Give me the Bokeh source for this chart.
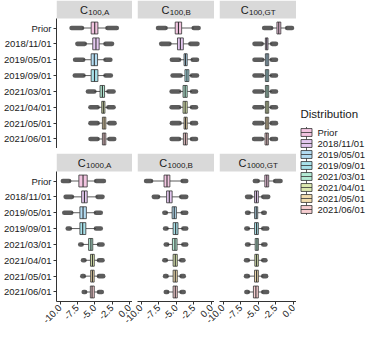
import math
from bokeh.plotting import figure
from bokeh.layouts import row, column
from bokeh.models import Range1d, FixedTicker, ColumnDataSource, PrintfTickFormatter
from bokeh.core.properties import value
from bokeh.embed import file_html
from bokeh.resources import INLINE

# ---------------- data ----------------
categories = ["Prior", "2018/11/01", "2019/05/01", "2019/09/01",
              "2021/03/01", "2021/04/01", "2021/05/01", "2021/06/01"]
fill_colors = ["#F2C4E0", "#E4C8F0", "#B3DCF2", "#A8E2EA",
               "#B3EAD4", "#DCE9B0", "#F1DCAE", "#F6CDD0"]
x_ticks = [-10.0, -7.5, -5.0, -2.5, 0.0]

# C100,A
c100a_lo_out = [-8.35, -7.51, -7.84, -7.88, -5.99, -5.63, -5.63, -5.63]
c100a_lo_wh = [-6.85, -6.46, -6.68, -6.64, -5.08, -4.61, -4.61, -4.61]
c100a_q1 = [-5.53, -5.30, -5.53, -5.53, -4.25, -4.01, -3.91, -3.91]
c100a_med = [-5.02, -4.84, -5.08, -5.05, -3.91, -3.78, -3.67, -3.67]
c100a_q3 = [-4.56, -4.38, -4.61, -4.56, -3.60, -3.55, -3.42, -3.42]
c100a_hi_wh = [-3.18, -3.46, -3.46, -3.46, -3.04, -3.04, -2.90, -2.90]
c100a_hi_out = [-1.84, -2.53, -2.77, -2.70, -2.31, -2.31, -2.17, -2.21]

# C100,B
c100b_lo_out = [-7.60, -7.15, -5.63, -5.53, -5.67, -5.67, -5.63, -5.67]
c100b_lo_wh = [-6.54, -5.99, -4.61, -4.38, -4.61, -4.61, -4.55, -4.61]
c100b_q1 = [-5.16, -4.84, -3.91, -3.78, -4.05, -4.05, -3.91, -4.00]
c100b_med = [-4.70, -4.43, -3.70, -3.50, -3.75, -3.75, -3.70, -3.72]
c100b_q3 = [-4.25, -4.01, -3.46, -3.22, -3.46, -3.46, -3.46, -3.46]
c100b_hi_wh = [-2.53, -3.00, -2.67, -2.77, -2.77, -2.77, -2.77, -2.77]
c100b_hi_out = [-1.84, -2.00, -2.07, -2.07, -2.21, -2.21, -2.21, -2.21]

# C100,GT
c100gt_lo_out = [-4.17, -5.54, -5.54, -5.54, -5.54, -5.54, -5.54, -5.60]
c100gt_lo_wh = [-3.18, -4.54, -4.45, -4.45, -4.45, -4.45, -4.45, -4.50]
c100gt_q1 = [-2.36, -4.00, -4.00, -4.00, -4.00, -4.00, -4.00, -4.05]
c100gt_med = [-2.10, -3.81, -3.77, -3.77, -3.77, -3.77, -3.77, -3.80]
c100gt_q3 = [-1.81, -3.63, -3.53, -3.53, -3.53, -3.53, -3.53, -3.58]
c100gt_hi_wh = [-0.90, -3.04, -3.08, -3.08, -3.08, -3.08, -3.08, -3.08]
c100gt_hi_out = [-0.22, -2.50, -2.50, -2.50, -2.50, -2.50, -2.50, -2.50]

# C1000,A
c1000a_lo_out = [-9.60, -9.20, -9.40, -8.90, -7.10, -6.70, -6.80, -6.60]
c1000a_lo_wh = [-8.70, -8.30, -8.40, -8.60, -6.90, -6.50, -6.60, -6.40]
c1000a_q1 = [-7.30, -6.90, -7.15, -7.15, -5.90, -5.63, -5.60, -5.65]
c1000a_med = [-6.70, -6.50, -6.70, -6.75, -5.57, -5.35, -5.35, -5.40]
c1000a_q3 = [-6.10, -6.10, -6.22, -6.30, -5.30, -5.08, -5.10, -5.08]
c1000a_hi_wh = [-4.80, -4.60, -4.84, -4.84, -4.40, -4.40, -4.40, -4.40]
c1000a_hi_out = [-3.70, -3.90, -4.15, -4.15, -3.90, -3.90, -3.80, -4.00]

# C1000,B
c1000b_lo_out = [-9.30, -8.20, -6.70, -6.60, -6.50, -6.70, -6.60, -6.50]
c1000b_lo_wh = [-8.60, -7.60, -6.50, -6.40, -6.30, -6.50, -6.40, -6.30]
c1000b_q1 = [-6.75, -6.39, -5.60, -5.46, -5.56, -5.46, -5.46, -5.46]
c1000b_med = [-6.33, -6.00, -5.30, -5.10, -5.20, -5.15, -5.15, -5.15]
c1000b_q3 = [-5.92, -5.60, -5.00, -4.77, -4.90, -4.87, -4.87, -4.87]
c1000b_hi_wh = [-4.10, -4.30, -4.10, -4.00, -4.00, -4.30, -4.25, -4.25]
c1000b_hi_out = [-3.60, -3.60, -3.60, -3.60, -3.60, -4.00, -3.95, -3.95]

# C1000,GT
c1000gt_lo_out = [-5.50, -6.60, -6.60, -6.70, -6.60, -6.75, -6.75, -6.70]
c1000gt_lo_wh = [-5.10, -6.10, -6.40, -6.50, -6.40, -6.50, -6.50, -6.50]
c1000gt_q1 = [-4.08, -5.54, -5.54, -5.54, -5.45, -5.50, -5.54, -5.70]
c1000gt_med = [-3.80, -5.27, -5.30, -5.25, -5.20, -5.25, -5.25, -5.35]
c1000gt_q3 = [-3.53, -5.00, -5.09, -5.00, -5.00, -5.00, -5.00, -5.00]
c1000gt_hi_wh = [-2.60, -4.30, -4.30, -4.30, -4.30, -4.30, -4.30, -4.30]
c1000gt_hi_out = [-1.85, -3.60, -4.10, -3.75, -4.00, -4.00, -3.90, -3.75]

panels = [
    ("100,A", c100a_lo_out, c100a_lo_wh, c100a_q1, c100a_med, c100a_q3, c100a_hi_wh, c100a_hi_out),
    ("100,B", c100b_lo_out, c100b_lo_wh, c100b_q1, c100b_med, c100b_q3, c100b_hi_wh, c100b_hi_out),
    ("100,GT", c100gt_lo_out, c100gt_lo_wh, c100gt_q1, c100gt_med, c100gt_q3, c100gt_hi_wh, c100gt_hi_out),
    ("1000,A", c1000a_lo_out, c1000a_lo_wh, c1000a_q1, c1000a_med, c1000a_q3, c1000a_hi_wh, c1000a_hi_out),
    ("1000,B", c1000b_lo_out, c1000b_lo_wh, c1000b_q1, c1000b_med, c1000b_q3, c1000b_hi_wh, c1000b_hi_out),
    ("1000,GT", c1000gt_lo_out, c1000gt_lo_wh, c1000gt_q1, c1000gt_med, c1000gt_q3, c1000gt_hi_wh, c1000gt_hi_out),
]

# ---------------- layout constants ----------------
FONT = "Liberation Sans"
DARK = "#333333"
PW = 77          # panel frame width
AX_W = 55        # y-axis area
GAP = 5
EXTRA = 16       # overlap room so rotated tick labels are not clipped
STRIP_H = 18
PANEL_H = 130
XAX_H = 30
X0, X1 = -10.52, 0.42
n = len(categories)
unit = PANEL_H / (n + 0.2)
Y_BOT = n + 0.6
Y_PAN_TOP = 0.4
Y_TOP = Y_PAN_TOP - STRIP_H / unit

CW = {"0": .556, "1": .556, ",": .278, "A": .667, "B": .667, "G": .778, "T": .611, "C": .722}
MAIN_FS, SUB_FS = 11, 8


def text_w(s, fs):
    return sum(CW.get(ch, .6) for ch in s) * fs


def make_panel(idx, sub, lo_out, lo_wh, q1, med, q3, hi_wh, hi_out):
    left_col = idx % 3 == 0
    bottom = idx >= 3
    overlap = bottom and not left_col
    lb = AX_W if left_col else (GAP + EXTRA if overlap else GAP)
    w = lb + PW
    h = STRIP_H + PANEL_H + ((GAP + XAX_H) if bottom else 0)
    p = figure(width=w, height=h, output_backend="svg", toolbar_location=None,
               x_range=Range1d(X0, X1), y_range=Range1d(Y_BOT, Y_TOP),
               x_axis_location="below" if bottom else None,
               y_axis_location="left" if left_col else None,
               min_border_left=lb, min_border_right=0,
               min_border_top=GAP if bottom else 0,
               min_border_bottom=XAX_H if bottom else 0,
               background_fill_color="white", border_fill_color=None)
    if overlap:
        p.margin = (0, 0, 0, -EXTRA)
    p.outline_line_color = None
    for g in p.grid:
        g.visible = False

    ys = list(range(1, n + 1))
    src = ColumnDataSource(dict(
        y=ys, lo_out=lo_out, lo_wh=lo_wh, q1=q1, med=med, q3=q3,
        hi_wh=hi_wh, hi_out=hi_out, color=fill_colors,
        ytop=[y - 0.375 for y in ys], ybot=[y + 0.375 for y in ys]))

    # strip
    p.quad(left=[X0], right=[X1], top=[Y_TOP], bottom=[Y_PAN_TOP],
           fill_color="#D9D9D9", line_color=None)
    xc = (X0 + X1) / 2
    yc = (Y_TOP + Y_PAN_TOP) / 2
    wc = text_w("C", MAIN_FS)
    ws = text_w(sub, SUB_FS)
    start = -(wc + ws) / 2
    p.text(x=[xc], y=[yc], text=["C"], text_font=value(FONT),
           text_font_size=f"{MAIN_FS}px", text_align="left", text_baseline="middle",
           x_offset=start, y_offset=0, text_color="#1A1A1A")
    p.text(x=[xc], y=[yc], text=[sub], text_font=value(FONT),
           text_font_size=f"{SUB_FS}px", text_align="left", text_baseline="middle",
           x_offset=start + wc + 0.3, y_offset=3, text_color="#1A1A1A")

    # whiskers
    p.segment(x0="lo_wh", x1="q1", y0="y", y1="y", source=src, line_color=DARK, line_width=0.8)
    p.segment(x0="q3", x1="hi_wh", y0="y", y1="y", source=src, line_color=DARK, line_width=0.8)
    # dense outliers
    p.segment(x0="lo_out", x1="lo_wh", y0="y", y1="y", source=src, line_color=DARK,
              line_width=4.6, line_alpha=0.8, line_cap="round")
    p.segment(x0="hi_wh", x1="hi_out", y0="y", y1="y", source=src, line_color=DARK,
              line_width=4.6, line_alpha=0.8, line_cap="round")
    # boxes
    p.hbar(y="y", left="q1", right="q3", height=0.75, source=src,
           fill_color="color", line_color=DARK, line_width=0.8)
    p.segment(x0="med", x1="med", y0="ytop", y1="ybot", source=src,
              line_color=DARK, line_width=1.1)

    if left_col:
        ax = p.yaxis[0]
        ax.bounds = (Y_PAN_TOP, Y_BOT)
        ax.ticker = FixedTicker(ticks=ys)
        ax.major_label_overrides = {y: c for y, c in zip(ys, categories)}
        ax.axis_line_color = DARK
        ax.axis_line_width = 1
        ax.major_tick_line_color = DARK
        ax.major_tick_out = 3
        ax.major_tick_in = 0
        ax.minor_tick_line_color = None
        ax.major_label_standoff = 2
        ax.major_label_text_font = FONT
        ax.major_label_text_font_size = "9.5px"
        ax.major_label_text_color = "#1A1A1A"
    if bottom:
        ax = p.xaxis[0]
        ax.ticker = FixedTicker(ticks=x_ticks)
        ax.formatter = PrintfTickFormatter(format="%.1f")
        ax.axis_line_color = DARK
        ax.axis_line_width = 1
        ax.major_tick_line_color = DARK
        ax.major_tick_out = 3
        ax.major_tick_in = 0
        ax.minor_tick_line_color = None
        ax.major_label_standoff = 2
        ax.major_label_orientation = math.pi / 4
        ax.major_label_text_font = FONT
        ax.major_label_text_font_size = "9.5px"
        ax.major_label_text_color = "#1A1A1A"
    return p


figs = [make_panel(i, *pan) for i, pan in enumerate(panels)]

# ---------------- legend ----------------
TOTAL_H = 2 * (STRIP_H + PANEL_H) + GAP + XAX_H
LEG_W = 76
ITEM = 11
first_y = 132
leg = figure(width=LEG_W, height=TOTAL_H, output_backend="svg", toolbar_location=None,
             x_range=Range1d(0, LEG_W),
             y_range=Range1d(TOTAL_H / ITEM - first_y / ITEM, -first_y / ITEM),
             x_axis_location=None, y_axis_location=None,
             min_border=0, background_fill_color="white", border_fill_color="white")
leg.outline_line_color = None
for g in leg.grid:
    g.visible = False
li = list(range(n))
lsrc = ColumnDataSource(dict(i=li, label=categories, color=fill_colors,
                             wt=[i - 0.5 for i in li], wb=[i + 0.5 for i in li]))
leg.segment(x0=10, x1=10, y0="wt", y1="wb", source=lsrc, line_color=DARK, line_width=0.8)
leg.rect(x=10, y="i", width=11, height=0.72, source=lsrc, fill_color="color",
         line_color=DARK, line_width=0.8)
leg.segment(x0=4.5, x1=15.5, y0="i", y1="i", source=lsrc, line_color=DARK, line_width=0.8)
leg.text(x=21, y="i", text="label", source=lsrc, text_font=value(FONT),
         text_font_size="9.5px", text_baseline="middle", text_color="#1A1A1A")
leg.text(x=[4], y=[-1.7], text=["Distribution"], text_font=value(FONT),
         text_font_size="11.5px", text_baseline="middle", text_color="#1A1A1A")

layout = row(column(row(*figs[:3]), row(*figs[3:])), leg)

with open("out.html", "w") as f:
    f.write(file_html(layout, INLINE))
